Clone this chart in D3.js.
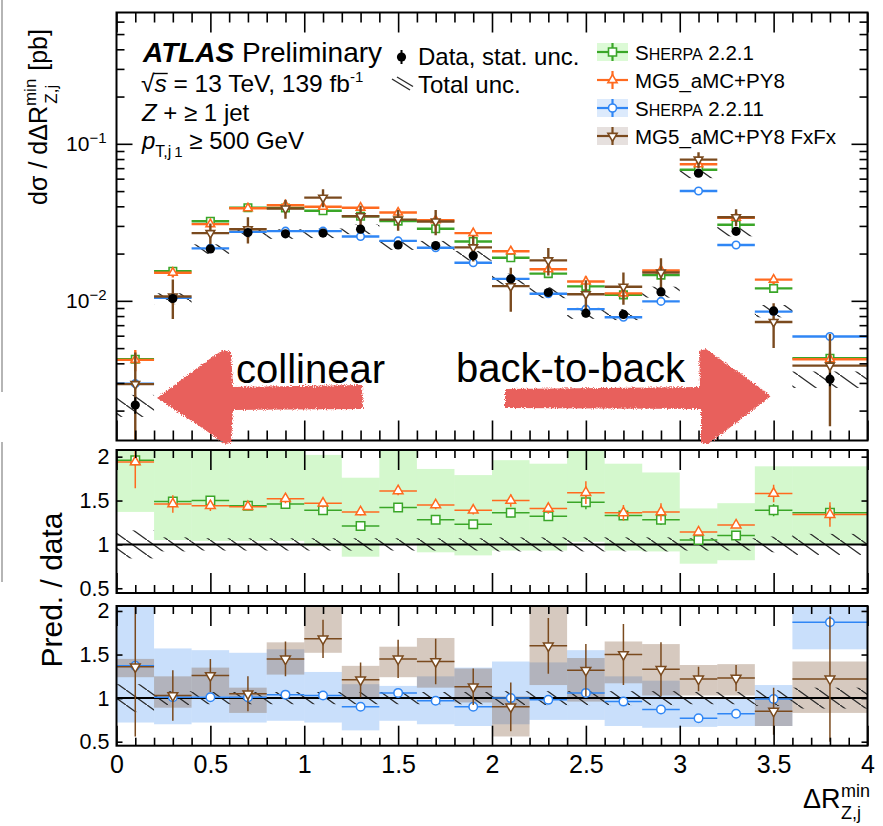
<!DOCTYPE html>
<html>
<head>
<meta charset="utf-8">
<script src="https://cdn.jsdelivr.net/npm/d3@7"></script>
<style>
  body { margin: 0; background: #fff; }
  svg { display: block; }
  text { font-family: "Liberation Sans", Arial, Helvetica, sans-serif; fill: #000; }
</style>
</head>
<body>
<svg id="chart" width="883" height="826"></svg>
<script>
// ---- binning ----
const binEdges = [0, 0.2, 0.4, 0.6, 0.8, 1.0, 1.2, 1.4, 1.6, 1.8, 2.0, 2.2, 2.4, 2.6, 2.8, 3.0, 3.2, 3.4, 3.6, 4.0];

// ---- measured cross section [pb] ----
const dataXs = [0.00217, 0.01035, 0.0214, 0.0272, 0.0267, 0.0270, 0.0286, 0.0227, 0.0225, 0.0194,
                0.0138, 0.0113, 0.00835, 0.0082, 0.0114, 0.0650, 0.0277, 0.00863, 0.00317];
const dataStatRel = [0.12, 0.05, 0.03, 0.025, 0.025, 0.025, 0.025, 0.03, 0.03, 0.035,
                     0.045, 0.05, 0.06, 0.06, 0.05, 0.02, 0.03, 0.06, 0.1];
const dataTotRel = [0.16, 0.08, 0.07, 0.07, 0.07, 0.07, 0.07, 0.07, 0.07, 0.07,
                    0.08, 0.08, 0.08, 0.08, 0.08, 0.07, 0.07, 0.09, 0.12];

// ---- predictions [pb] ----
const sherpa221Xs = [0.00425, 0.01542, 0.0321, 0.0392, 0.0390, 0.0375, 0.0346, 0.0322, 0.0288, 0.0239,
                     0.0188, 0.0149, 0.01236, 0.01091, 0.01459, 0.0683, 0.0305, 0.0120, 0.00431];
const mg5Xs = [0.00421, 0.01511, 0.0308, 0.0389, 0.0406, 0.0397, 0.0392, 0.0365, 0.0326, 0.0270,
               0.0207, 0.0159, 0.01328, 0.01115, 0.01562, 0.0741, 0.0338, 0.01364, 0.00425];
const sherpa2211Xs = [0.00297, 0.01045, 0.0216, 0.0275, 0.0278, 0.0278, 0.0257, 0.0241, 0.0218, 0.0175,
                      0.0138, 0.0111, 0.00885, 0.00787, 0.00992, 0.0501, 0.0227, 0.00854, 0.00593];
const fxfxXs = [0.00295, 0.01066, 0.0270, 0.0286, 0.0387, 0.0454, 0.0346, 0.0329, 0.0320, 0.0219,
                0.0124, 0.0181, 0.01102, 0.0123, 0.01516, 0.0793, 0.0341, 0.00734, 0.00387];

// ---- prediction / data ----
const sherpa221Ratio = [1.96, 1.49, 1.50, 1.44, 1.46, 1.39, 1.21, 1.42, 1.28, 1.23,
                        1.36, 1.32, 1.48, 1.33, 1.28, 1.05, 1.10, 1.39, 1.36];
const mg5Ratio = [1.94, 1.46, 1.44, 1.43, 1.52, 1.47, 1.37, 1.61, 1.45, 1.39,
                  1.50, 1.41, 1.59, 1.36, 1.37, 1.14, 1.22, 1.58, 1.34];
const sherpa2211Ratio = [1.37, 1.01, 1.01, 1.01, 1.04, 1.03, 0.90, 1.06, 0.97, 0.90,
                         1.00, 0.98, 1.06, 0.96, 0.87, 0.77, 0.82, 0.99, 1.87];
const fxfxRatio = [1.36, 1.03, 1.26, 1.05, 1.45, 1.68, 1.21, 1.45, 1.42, 1.13,
                   0.90, 1.60, 1.32, 1.50, 1.33, 1.22, 1.23, 0.85, 1.22];

// statistical errors of the predictions, in units of the data value
const sherpa221Err = [0.06, 0.05, 0.04, 0.03, 0.04, 0.04, 0.03, 0.04, 0.04, 0.04,
                      0.05, 0.05, 0.08, 0.05, 0.06, 0.03, 0.03, 0.07, 0.08];
const mg5Err = [0.30, 0.10, 0.06, 0.04, 0.05, 0.05, 0.04, 0.05, 0.05, 0.05,
                0.07, 0.06, 0.13, 0.09, 0.10, 0.03, 0.03, 0.10, 0.14];
const sherpa2211Err = [0.05, 0.02, 0.02, 0.02, 0.02, 0.02, 0.02, 0.02, 0.02, 0.02,
                       0.03, 0.03, 0.03, 0.03, 0.03, 0.01, 0.02, 0.03, 0.06];
const fxfxErr = [0.80, 0.29, 0.19, 0.20, 0.20, 0.22, 0.20, 0.22, 0.26, 0.21,
                 0.28, 0.32, 0.30, 0.35, 0.31, 0.14, 0.15, 0.27, 0.72];

// theory uncertainty bands on the ratio (low, high)
const sherpa221BandLo = [1.37, 1.05, 1.04, 1.04, 1.04, 0.98, 0.86, 1.01, 0.91, 0.875,
                         0.93, 0.93, 1.03, 0.93, 0.92, 0.78, 0.82, 1.00, 1.00];
const sherpa221BandHi = [2.60, 2.20, 2.20, 2.20, 2.20, 2.02, 1.76, 2.20, 1.86, 1.79,
                         1.96, 1.92, 2.20, 1.92, 1.82, 1.41, 1.47, 1.89, 1.89];
const sherpa2211BandLo = [0.72, 0.70, 0.72, 0.72, 0.74, 0.72, 0.63, 0.74, 0.70, 0.68,
                          0.70, 0.75, 0.75, 0.68, 0.66, 0.67, 0.68, 0.68, 1.56];
const sherpa2211BandHi = [2.50, 1.57, 1.55, 1.52, 1.56, 1.30, 1.16, 1.14, 1.25, 1.35,
                          1.42, 1.41, 1.55, 1.25, 1.20, 0.99, 0.99, 1.15, 2.50];
const fxfxBandLo = [1.24, 0.89, 1.02, 0.83, 1.27, 1.52, 1.01, 1.24, 1.12, 0.95,
                    0.56, 1.15, 0.96, 1.17, 1.03, 1.03, 1.03, 0.68, 0.83];
const fxfxBandHi = [1.45, 1.25, 1.35, 1.12, 1.64, 2.30, 1.37, 1.59, 1.69, 1.34,
                    1.02, 2.30, 1.46, 1.65, 1.62, 1.38, 1.39, 1.00, 1.42];

// ---- axis ticks ----
const xMajorTicks = [0, 0.5, 1, 1.5, 2, 2.5, 3, 3.5, 4];
const xTickLabels = ["0", "0.5", "1", "1.5", "2", "2.5", "3", "3.5", "4"];
const yMainMajorTicks = [0.01, 0.1];
const yMainTickExponents = ["\u22122", "\u22121"];
const ratioTicks = [0.5, 1, 1.5, 2];
const ratioTickLabels = ["0.5", "1", "1.5", "2"];

// ---- series styling ----
const COL = { green: "#3aa628", orange: "#ff6a1f", blue: "#2f86f5", brown: "#7a4a1e" };

const bins = binEdges.slice(0, -1).map((lo, i) => ({ i, lo, hi: binEdges[i + 1], c: (lo + binEdges[i + 1]) / 2 }));

const svg = d3.select("#chart");
const defs = svg.append("defs");

const x = d3.scaleLinear().domain([0, 4]).range([116.5, 867.5]);
const yMain = d3.scaleLog().domain([0.00129, 0.686]).range([440.5, 12.5]);
const yR1 = d3.scaleLinear().domain([0.446, 2.076]).range([593, 450]);
const yR2 = d3.scaleLinear().domain([0.454, 2.057]).range([745.7, 606]);

const panels = {
  main: { y: yMain, top: 12.5, bottom: 440.5 },
  r1: { y: yR1, top: 450, bottom: 593 },
  r2: { y: yR2, top: 606, bottom: 745.7 }
};

Object.entries(panels).forEach(([k, p]) => {
  defs.append("clipPath").attr("id", "clip-" + k)
    .append("rect").attr("x", x(0)).attr("y", p.top)
    .attr("width", x(4) - x(0)).attr("height", p.bottom - p.top);
});

// hatch for the total data uncertainty
const pat = defs.append("pattern").attr("id", "hatch")
  .attr("patternUnits", "userSpaceOnUse").attr("width", 21).attr("height", 15);
pat.append("line").attr("x1", -1).attr("y1", -0.714).attr("x2", 22).attr("y2", 15.714)
  .attr("stroke", "#2a2a2a").attr("stroke-width", 1.3);

// rough, spray-painted edge for the annotation arrows
const rough = defs.append("filter").attr("id", "rough")
  .attr("x", "-10%").attr("y", "-20%").attr("width", "120%").attr("height", "140%");
rough.append("feTurbulence").attr("type", "fractalNoise").attr("baseFrequency", 0.9)
  .attr("numOctaves", 2).attr("seed", 3).attr("result", "noise");
rough.append("feDisplacementMap").attr("in", "SourceGraphic").attr("in2", "noise")
  .attr("scale", 5).attr("xChannelSelector", "R").attr("yChannelSelector", "G");

// ---------- helpers ----------
function markerPath(kind, size) {
  if (kind === "square") return d3.symbol(d3.symbolSquare, size * size)();
  if (kind === "circle") return d3.symbol(d3.symbolCircle, Math.PI * (size / 2) * (size / 2))();
  const s = size * 1.15;
  return d3.symbol(d3.symbolTriangle, Math.sqrt(3) / 4 * s * s)();
}

function drawSeries(g, yScale, vals, errs, scaleErr, color, kind, opt) {
  const sg = g.append("g");
  bins.forEach(b => {
    const v = vals[b.i];
    const e = errs[b.i] * scaleErr(b.i);
    sg.append("line")
      .attr("x1", x(b.lo)).attr("x2", x(b.hi))
      .attr("y1", yScale(v)).attr("y2", yScale(v))
      .attr("stroke", color).attr("stroke-width", opt.lw);
    const lo = Math.max(v - e, yScale.domain()[0] * 0.5);
    sg.append("line")
      .attr("x1", x(b.c)).attr("x2", x(b.c))
      .attr("y1", yScale(lo)).attr("y2", yScale(v + e))
      .attr("stroke", color).attr("stroke-width", opt.lw);
    let rot = 0;
    if (kind === "tridown") rot = 180;
    sg.append("path")
      .attr("d", markerPath(kind, opt.ms))
      .attr("transform", `translate(${x(b.c)},${yScale(v)}) rotate(${rot})`)
      .attr("fill", "#fff").attr("stroke", color).attr("stroke-width", opt.mw);
  });
}

function drawBand(g, yScale, lo, hi, fill) {
  g.append("g").selectAll("rect").data(bins).join("rect")
    .attr("x", b => x(b.lo)).attr("width", b => x(b.hi) - x(b.lo))
    .attr("y", b => yScale(hi[b.i])).attr("height", b => yScale(lo[b.i]) - yScale(hi[b.i]))
    .attr("fill", fill);
}

function drawHatch(g, yScale, center, rel) {
  g.append("g").selectAll("rect").data(bins).join("rect")
    .attr("x", b => x(b.lo)).attr("width", b => x(b.hi) - x(b.lo))
    .attr("y", b => yScale(center(b.i) * (1 + rel[b.i])))
    .attr("height", b => yScale(center(b.i) * (1 - rel[b.i])) - yScale(center(b.i) * (1 + rel[b.i])))
    .attr("fill", "url(#hatch)");
}

function frameAndTicks(p, yMajor, yMinor, opt) {
  const g = svg.append("g");
  const xMinor = d3.range(0, 41).map(d => d / 10).filter(d => Math.abs(d * 2 - Math.round(d * 2)) > 1e-6);
  const clean = sel => { sel.select(".domain").remove(); sel.selectAll("text").remove(); sel.selectAll("line").attr("stroke", "#000").attr("stroke-width", 1.6); };
  // x ticks on bottom and top edges, pointing inwards
  g.append("g").attr("transform", `translate(0,${p.bottom})`).call(d3.axisBottom(x).tickValues(xMajorTicks).tickSize(-opt.xMaj)).call(clean);
  g.append("g").attr("transform", `translate(0,${p.bottom})`).call(d3.axisBottom(x).tickValues(xMinor).tickSize(-opt.xMin)).call(clean);
  g.append("g").attr("transform", `translate(0,${p.top})`).call(d3.axisTop(x).tickValues(xMajorTicks).tickSize(-opt.xMaj)).call(clean);
  g.append("g").attr("transform", `translate(0,${p.top})`).call(d3.axisTop(x).tickValues(xMinor).tickSize(-opt.xMin)).call(clean);
  // y ticks on left and right edges
  g.append("g").attr("transform", `translate(${x(0)},0)`).call(d3.axisLeft(p.y).tickValues(yMajor).tickSize(-opt.yMaj)).call(clean);
  g.append("g").attr("transform", `translate(${x(4)},0)`).call(d3.axisRight(p.y).tickValues(yMajor).tickSize(-opt.yMaj)).call(clean);
  if (yMinor.length) {
    g.append("g").attr("transform", `translate(${x(0)},0)`).call(d3.axisLeft(p.y).tickValues(yMinor).tickSize(-opt.yMin)).call(clean);
    g.append("g").attr("transform", `translate(${x(4)},0)`).call(d3.axisRight(p.y).tickValues(yMinor).tickSize(-opt.yMin)).call(clean);
  }
  g.append("rect").attr("x", x(0)).attr("y", p.top)
    .attr("width", x(4) - x(0)).attr("height", p.bottom - p.top)
    .attr("fill", "none").attr("stroke", "#000").attr("stroke-width", 2);
  return g;
}

// ---------- main panel ----------
const gm = svg.append("g").attr("clip-path", "url(#clip-main)");
drawHatch(gm, yMain, i => dataXs[i], dataTotRel);
const mainOpt = { lw: 2.4, ms: 7.5, mw: 1.6 };
const dataScale = i => dataXs[i];
drawSeries(gm, yMain, sherpa221Xs, sherpa221Err, dataScale, COL.green, "square", mainOpt);
drawSeries(gm, yMain, mg5Xs, mg5Err, dataScale, COL.orange, "triup", mainOpt);
drawSeries(gm, yMain, sherpa2211Xs, sherpa2211Err, dataScale, COL.blue, "circle", mainOpt);
drawSeries(gm, yMain, fxfxXs, fxfxErr, dataScale, COL.brown, "tridown", mainOpt);
// data points
bins.forEach(b => {
  const v = dataXs[b.i], e = v * dataStatRel[b.i];
  gm.append("line").attr("x1", x(b.c)).attr("x2", x(b.c))
    .attr("y1", yMain(v - e)).attr("y2", yMain(v + e))
    .attr("stroke", "#000").attr("stroke-width", 2);
  gm.append("circle").attr("cx", x(b.c)).attr("cy", yMain(v)).attr("r", 4.6).attr("fill", "#000");
});

const mainMinor = [];
[0.001, 0.01, 0.1].forEach(d => { for (let k = 2; k <= 9; k++) { const v = d * k; if (v > 0.00129 && v < 0.686) mainMinor.push(v); } });
frameAndTicks(panels.main, yMainMajorTicks, mainMinor, { xMaj: 20, xMin: 10, yMaj: 16, yMin: 8 });

// ---------- ratio panel 1: SHERPA 2.2.1 and MG5_aMC+PY8 ----------
const g1 = svg.append("g").attr("clip-path", "url(#clip-r1)");
drawBand(g1, yR1, sherpa221BandLo, sherpa221BandHi, "rgba(95,230,70,0.27)");
drawHatch(g1, yR1, () => 1, dataTotRel);
g1.append("line").attr("x1", x(0)).attr("x2", x(4)).attr("y1", yR1(1)).attr("y2", yR1(1)).attr("stroke", "#000").attr("stroke-width", 2);
const ratioOpt = { lw: 1.5, ms: 8.5, mw: 1.5 };
drawSeries(g1, yR1, sherpa221Ratio, sherpa221Err, () => 1, COL.green, "square", ratioOpt);
drawSeries(g1, yR1, mg5Ratio, mg5Err, () => 1, COL.orange, "triup", ratioOpt);
frameAndTicks(panels.r1, ratioTicks, [], { xMaj: 20, xMin: 8, yMaj: 6, yMin: 0 });

// ---------- ratio panel 2: SHERPA 2.2.11 and MG5_aMC+PY8 FxFx ----------
const g2 = svg.append("g").attr("clip-path", "url(#clip-r2)");
drawBand(g2, yR2, sherpa2211BandLo, sherpa2211BandHi, "rgba(60,140,240,0.28)");
drawBand(g2, yR2, fxfxBandLo, fxfxBandHi, "rgba(130,90,60,0.33)");
drawHatch(g2, yR2, () => 1, dataTotRel);
g2.append("line").attr("x1", x(0)).attr("x2", x(4)).attr("y1", yR2(1)).attr("y2", yR2(1)).attr("stroke", "#000").attr("stroke-width", 2);
drawSeries(g2, yR2, sherpa2211Ratio, sherpa2211Err, () => 1, COL.blue, "circle", ratioOpt);
drawSeries(g2, yR2, fxfxRatio, fxfxErr, () => 1, COL.brown, "tridown", ratioOpt);
frameAndTicks(panels.r2, ratioTicks, [], { xMaj: 20, xMin: 8, yMaj: 6, yMin: 0 });

// ---------- tick labels ----------
const xl = svg.append("g").attr("transform", `translate(0,${panels.r2.bottom})`)
  .call(d3.axisBottom(x).tickValues(xMajorTicks).tickSize(0).tickPadding(10).tickFormat((d, i) => xTickLabels[i]));
xl.select(".domain").remove();
xl.selectAll("text").attr("font-size", 25).attr("font-family", "Liberation Sans, Arial, sans-serif").attr("fill", "#000");

[["r1", yR1], ["r2", yR2]].forEach(([k, ys]) => {
  const a = svg.append("g").attr("transform", `translate(${x(0)},0)`)
    .call(d3.axisLeft(ys).tickValues(ratioTicks).tickSize(0).tickPadding(7).tickFormat((d, i) => ratioTickLabels[i]));
  a.select(".domain").remove();
  a.selectAll("text").attr("font-size", 21.5).attr("font-family", "Liberation Sans, Arial, sans-serif").attr("fill", "#000");
});

const ym = svg.append("g").attr("transform", `translate(${x(0)},0)`)
  .call(d3.axisLeft(yMain).tickValues(yMainMajorTicks).tickSize(0).tickPadding(10).tickFormat(() => ""));
ym.select(".domain").remove();
ym.selectAll("text").attr("font-size", 21).attr("font-family", "Liberation Sans, Arial, sans-serif").attr("fill", "#000")
  .each(function (d, i) {
    const t = d3.select(this);
    t.append("tspan").text("10");
    t.append("tspan").attr("font-size", 15).attr("dy", "-0.55em").text(yMainTickExponents[i]);
  });

// ---------- axis titles ----------
// x title: ΔR^min_{Z,j}
const xt = svg.append("g").attr("transform", "translate(803,808)");
xt.append("text").attr("font-size", 27).text("\u0394R");
xt.append("text").attr("x", 38).attr("y", -11).attr("font-size", 18).text("min");
xt.append("text").attr("x", 38).attr("y", 11).attr("font-size", 18).text("Z,j");

// main y title
const ytm = svg.append("g").attr("transform", "translate(47,108) rotate(-90)");
const ytmText = ytm.append("text").attr("font-size", 25);
ytmText.append("tspan").text("d\u03c3 / d\u0394R");
ytmText.append("tspan").attr("font-size", 17).attr("dy", -11).text("min");
ytmText.append("tspan").attr("font-size", 17).attr("dx", -25).attr("dy", 21).text("Z,j");
ytmText.append("tspan").attr("dx", 7).attr("dy", -10).text(" [pb]");
ytmText.attr("x", -ytmText.node().getComputedTextLength() / 2);

// ratio y title
svg.append("text").attr("transform", "translate(62,590) rotate(-90)")
  .attr("text-anchor", "middle").attr("font-size", 30).text("Pred. / data");

// ---------- labels inside the main panel ----------
const atl = svg.append("text").attr("x", 143).attr("y", 62).attr("font-size", 28);
atl.append("tspan").attr("font-weight", "bold").attr("font-style", "italic").text("ATLAS");
atl.append("tspan").text(" Preliminary");

const sq = svg.append("text").attr("x", 141).attr("y", 92).attr("font-size", 24.5);
sq.append("tspan").text("\u221a");
sq.append("tspan").attr("font-style", "italic").text("s");
sq.append("tspan").text(" = 13 TeV, 139 fb");
sq.append("tspan").attr("font-size", 15).attr("dy", -10).text("-1");
{
  const n = sq.node();
  const x1 = 141 + n.getSubStringLength(0, 1) - 1;
  const x2 = 141 + n.getSubStringLength(0, 2) + 1;
  svg.append("line").attr("x1", x1).attr("x2", x2).attr("y1", 73.5).attr("y2", 73.5).attr("stroke", "#000").attr("stroke-width", 1.4);
}

const zj = svg.append("text").attr("x", 142).attr("y", 121).attr("font-size", 24);
zj.append("tspan").attr("font-style", "italic").text("Z");
zj.append("tspan").text(" + \u2265 1 jet");

const pt = svg.append("text").attr("x", 142).attr("y", 149).attr("font-size", 24);
pt.append("tspan").attr("font-style", "italic").text("p");
pt.append("tspan").attr("font-size", 16).attr("dy", 8).text("T,j");
pt.append("tspan").attr("font-size", 15).attr("dx", 3).text("1");
pt.append("tspan").attr("dy", -8).text(" \u2265 500 GeV");

// data legend
svg.append("line").attr("x1", 401.5).attr("x2", 401.5).attr("y1", 50).attr("y2", 64).attr("stroke", "#000").attr("stroke-width", 2);
svg.append("circle").attr("cx", 401.5).attr("cy", 57).attr("r", 4.6).attr("fill", "#000");
svg.append("text").attr("x", 418).attr("y", 65).attr("font-size", 24).text("Data, stat. unc.");
svg.append("line").attr("x1", 392).attr("y1", 79).attr("x2", 410).attr("y2", 90).attr("stroke", "#2a2a2a").attr("stroke-width", 1.4);
svg.append("line").attr("x1", 397).attr("y1", 77).attr("x2", 413).attr("y2", 86.5).attr("stroke", "#2a2a2a").attr("stroke-width", 1.4);
svg.append("text").attr("x", 418).attr("y", 93).attr("font-size", 24).text("Total unc.");

// prediction legend
const legendRows = [
  { name: ["S", "HERPA", " 2.2.1"], color: COL.green, kind: "square", box: "rgba(95,230,70,0.22)" },
  { name: ["MG5_aMC+PY8"], color: COL.orange, kind: "triup", box: null },
  { name: ["S", "HERPA", " 2.2.11"], color: COL.blue, kind: "circle", box: "rgba(60,140,240,0.18)" },
  { name: ["MG5_aMC+PY8 FxFx"], color: COL.brown, kind: "tridown", box: "rgba(130,100,90,0.2)" }
];
legendRows.forEach((r, k) => {
  const cy = 52 + k * 28;
  const g = svg.append("g");
  if (r.box) g.append("rect").attr("x", 597).attr("y", cy - 9).attr("width", 31).attr("height", 18).attr("fill", r.box);
  g.append("line").attr("x1", 597).attr("x2", 628).attr("y1", cy).attr("y2", cy).attr("stroke", r.color).attr("stroke-width", 2.2);
  g.append("line").attr("x1", 612.5).attr("x2", 612.5).attr("y1", cy - 9).attr("y2", cy + 9).attr("stroke", r.color).attr("stroke-width", 2.2);
  g.append("path").attr("d", markerPath(r.kind, 8))
    .attr("transform", `translate(612.5,${cy}) rotate(${r.kind === "tridown" ? 180 : 0})`)
    .attr("fill", "#fff").attr("stroke", r.color).attr("stroke-width", 1.6);
  const t = g.append("text").attr("x", 635).attr("y", cy + 7.5).attr("font-size", 20.5);
  if (r.name.length === 3) {
    t.append("tspan").text(r.name[0]);
    t.append("tspan").attr("font-size", 16).text(r.name[1]);
    t.append("tspan").text(r.name[2]);
  } else {
    t.text(r.name[0]);
  }
});

// ---------- annotation arrows ----------
const arrowCol = "#e8605b";
const ann = svg.append("g");
ann.append("path").attr("filter", "url(#rough)").attr("fill", arrowCol)
  .attr("d", "M157,398 C175,385 200,365 223,350 L231,352 L233,387 L362,385 L363,409 L233,410 L231,443 L225,444 C203,428 178,412 157,398 Z");
ann.append("path").attr("filter", "url(#rough)").attr("fill", arrowCol)
  .attr("d", "M505,389 L700,387 L699,351 L706,349 C727,364 750,380 771,396 C750,412 730,428 708,444 L701,443 L701,409 L505,408 Z");
ann.append("text").attr("x", 236).attr("y", 383).attr("font-size", 40)
  .attr("font-family", "Roboto, 'Liberation Sans', sans-serif").attr("font-weight", 300).text("collinear");
ann.append("text").attr("x", 456).attr("y", 382).attr("font-size", 40)
  .attr("font-family", "Roboto, 'Liberation Sans', sans-serif").attr("font-weight", 300).text("back-to-back");

// faint edge line at the far left
svg.append("line").attr("x1", 2).attr("x2", 2).attr("y1", 0).attr("y2", 392).attr("stroke", "#b5b5b5").attr("stroke-width", 2);
svg.append("line").attr("x1", 2).attr("x2", 2).attr("y1", 442).attr("y2", 582).attr("stroke", "#b5b5b5").attr("stroke-width", 2);
</script>
</body>
</html>
